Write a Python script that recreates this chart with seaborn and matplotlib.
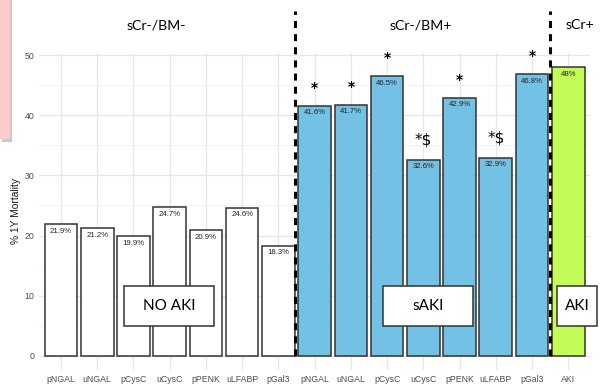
import matplotlib
matplotlib.use("Agg")
import matplotlib.pyplot as plt
from matplotlib.patches import Rectangle
import seaborn as sns
import pandas as pd

# Biomarkers measured in each group
markers = ["pNGAL", "uNGAL", "pCysC", "uCysC", "pPENK", "uLFABP", "pGal3"]
# One-year mortality (%) per group
no_aki = [21.9, 21.2, 19.9, 24.7, 20.9, 24.6, 18.3]
subclinical_aki = [41.6, 41.7, 46.5, 32.6, 42.9, 32.9, 46.8]
aki = [48]
# Significance marks over the subclinical AKI bars
sig_marks = ["*", "*", "*", "*$", "*", "*$", "*"]

group_titles = ["sCr-/BM-", "sCr-/BM+", "sCr+"]
box_labels = ["NO AKI", "sAKI", "AKI"]

tick_labels = markers + markers + ["AKI"]
values = no_aki + subclinical_aki + aki
groups = ["none"] * len(no_aki) + ["sub"] * len(subclinical_aki) + ["aki"] * len(aki)
df = pd.DataFrame({"slot": [str(i) for i in range(len(values))],
                   "mortality": values, "group": groups})

colors = {"none": "#FFFFFF", "sub": "#73C1E4", "aki": "#C3FB57"}

sns.set_theme(style="whitegrid")
fig = plt.figure(figsize=(6.11, 3.86), dpi=100)
ax = fig.add_axes([0.0643, 0.0404, 0.9013, 0.8233])

sns.barplot(data=df, x="slot", y="mortality", hue="group", palette=colors,
            order=df["slot"].tolist(), dodge=False, width=0.9, saturation=1,
            edgecolor="#333333", linewidth=1.1, legend=False, ax=ax)

ax.set_xlim(-0.6, len(values) - 0.4)
ax.set_ylim(-2.4, 50.4)
ax.set_xticks(range(len(values)))
ax.set_xticklabels(tick_labels, fontsize=6.3, color="#4D4D4D",
                   family="Liberation Sans")
ax.set_yticks([0, 10, 20, 30, 40, 50])
ax.set_yticklabels(["0", "10", "20", "30", "40", "50"], fontsize=6.3,
                   color="#4D4D4D", family="Liberation Sans")
ax.set_yticks([5, 15, 25, 35, 45], minor=True)
ax.tick_params(axis="both", which="both", length=0, pad=3.5)
ax.set_xlabel("")
ax.set_ylabel("")
ax.set_facecolor("white")
for s in ax.spines.values():
    s.set_visible(False)
ax.grid(True, which="major", color="#E6E6E6", linewidth=0.9)
ax.grid(True, which="minor", axis="y", color="#F0F0F0", linewidth=0.6)
ax.set_axisbelow(True)

# value labels inside the bar tops
for i, v in enumerate(values):
    ax.annotate(f"{v:g}%", (i, v), xytext=(0, -2.5), textcoords="offset points",
                ha="center", va="top", fontsize=5.6, color="#222222",
                family="Liberation Sans")

# significance marks
start = len(no_aki)
for j, (v, m) in enumerate(zip(subclinical_aki, sig_marks)):
    dollar = "$" in m
    ax.text(start + j, v + (2.5 if dollar else 2.3), m, ha="center",
            va="baseline", fontsize=11 if dollar else 10, color="black",
            family="DejaVu Sans", fontweight="bold" if not dollar else "normal")

# dashed separators between groups
for xs in [6.45, 13.5]:
    ax.plot([xs, xs], [0, 57.3], color="black", linewidth=2.2,
            linestyle=(0, (2.3, 2.0)), clip_on=False, zorder=6)

# group headers
for title, xf in zip(group_titles, [0.2553, 0.689, 0.949]):
    fig.text(xf, 0.935, title, ha="center", va="center", fontsize=10.2,
             family="Lato", color="black")

# outcome boxes
boxes = [(1.74, 4.23), (8.9, 11.38), (13.70, 14.78)]
for (x0, x1), lab in zip(boxes, box_labels):
    ax.add_patch(Rectangle((x0, 5.0), x1 - x0, 6.63, facecolor="white",
                           edgecolor="#333333", linewidth=1.1, zorder=7,
                           clip_on=False))
    ax.text((x0 + x1) / 2, 8.3, lab, ha="center", va="center", fontsize=11,
            family="Lato", color="black", zorder=8, clip_on=False)

# y-axis title
fig.text(16 / 611, 1 - 211 / 386, "% 1Y Mortality", rotation=90, ha="center",
         va="center", fontsize=7.4, family="Liberation Sans", color="#1A1A1A")

# pink note tab in the corner
fig.add_artist(Rectangle((2 / 611, 1 - 142 / 386), 10 / 611, 142 / 386,
                         transform=fig.transFigure, facecolor="#C8C8C8",
                         edgecolor="none", zorder=0))
fig.add_artist(Rectangle((0, 1 - 139 / 386), 10 / 611, 139 / 386,
                         transform=fig.transFigure, facecolor="#FFCCCC",
                         edgecolor="none", zorder=1))

fig.savefig("out.png", dpi=100)
